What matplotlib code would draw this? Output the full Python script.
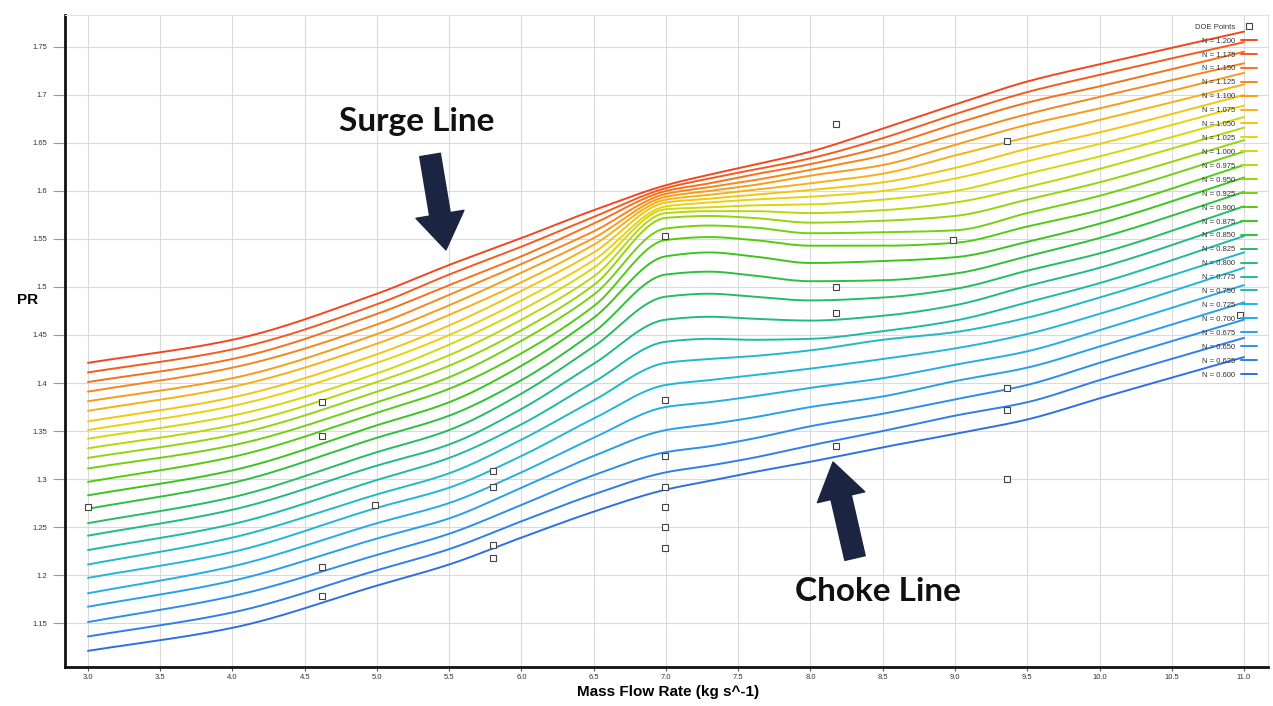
import numpy as np
import matplotlib
matplotlib.use("Agg")
import matplotlib.pyplot as plt

plt.rcParams['font.family'] = ['Liberation Sans', 'DejaVu Sans']

# ---------------- data ----------------
mass_flow = [3.0, 4.0, 5.0, 5.5, 6.0, 6.5, 7.0, 7.3, 7.6, 8.0, 8.5, 9.0, 9.5, 10.0, 11.0]

pr_lines = [
    [1.421, 1.445, 1.493, 1.523, 1.551, 1.580, 1.606, 1.617, 1.627, 1.641, 1.665, 1.690, 1.714, 1.732, 1.766],
    [1.411, 1.435, 1.482, 1.513, 1.542, 1.573, 1.603, 1.613, 1.622, 1.634, 1.655, 1.680, 1.703, 1.721, 1.755],
    [1.401, 1.425, 1.472, 1.502, 1.532, 1.566, 1.600, 1.608, 1.617, 1.628, 1.646, 1.670, 1.692, 1.709, 1.745],
    [1.391, 1.416, 1.461, 1.492, 1.524, 1.558, 1.597, 1.604, 1.611, 1.622, 1.637, 1.659, 1.680, 1.698, 1.733],
    [1.381, 1.405, 1.451, 1.481, 1.515, 1.551, 1.594, 1.600, 1.606, 1.616, 1.627, 1.648, 1.669, 1.686, 1.723],
    [1.371, 1.396, 1.441, 1.471, 1.505, 1.544, 1.591, 1.596, 1.601, 1.608, 1.618, 1.637, 1.656, 1.674, 1.711],
    [1.360, 1.385, 1.430, 1.460, 1.496, 1.536, 1.588, 1.592, 1.596, 1.601, 1.609, 1.624, 1.644, 1.661, 1.700],
    [1.351, 1.376, 1.421, 1.450, 1.486, 1.528, 1.584, 1.588, 1.591, 1.594, 1.600, 1.613, 1.631, 1.649, 1.689],
    [1.342, 1.366, 1.410, 1.440, 1.476, 1.520, 1.581, 1.583, 1.585, 1.586, 1.591, 1.600, 1.618, 1.636, 1.677],
    [1.332, 1.356, 1.401, 1.429, 1.466, 1.511, 1.577, 1.579, 1.579, 1.577, 1.580, 1.588, 1.604, 1.623, 1.666],
    [1.322, 1.346, 1.391, 1.418, 1.455, 1.502, 1.572, 1.574, 1.572, 1.567, 1.569, 1.574, 1.591, 1.609, 1.653],
    [1.311, 1.335, 1.380, 1.406, 1.444, 1.492, 1.561, 1.564, 1.562, 1.556, 1.557, 1.559, 1.577, 1.595, 1.641],
    [1.297, 1.323, 1.369, 1.394, 1.431, 1.480, 1.549, 1.552, 1.549, 1.543, 1.543, 1.546, 1.563, 1.580, 1.627],
    [1.283, 1.309, 1.356, 1.380, 1.418, 1.468, 1.532, 1.536, 1.532, 1.525, 1.527, 1.531, 1.547, 1.566, 1.614],
    [1.269, 1.296, 1.343, 1.366, 1.403, 1.453, 1.513, 1.516, 1.512, 1.506, 1.507, 1.514, 1.532, 1.551, 1.599],
    [1.254, 1.281, 1.328, 1.351, 1.389, 1.438, 1.490, 1.493, 1.490, 1.486, 1.489, 1.498, 1.517, 1.535, 1.584],
    [1.241, 1.268, 1.314, 1.336, 1.373, 1.420, 1.466, 1.469, 1.467, 1.465, 1.470, 1.481, 1.501, 1.520, 1.569],
    [1.226, 1.253, 1.299, 1.322, 1.357, 1.401, 1.443, 1.446, 1.445, 1.446, 1.454, 1.465, 1.484, 1.504, 1.553],
    [1.211, 1.239, 1.284, 1.306, 1.341, 1.382, 1.421, 1.425, 1.428, 1.434, 1.445, 1.453, 1.468, 1.489, 1.536],
    [1.197, 1.224, 1.270, 1.291, 1.324, 1.363, 1.398, 1.403, 1.408, 1.415, 1.425, 1.436, 1.451, 1.472, 1.520],
    [1.181, 1.209, 1.254, 1.275, 1.307, 1.343, 1.375, 1.380, 1.386, 1.395, 1.405, 1.419, 1.433, 1.455, 1.502],
    [1.167, 1.194, 1.238, 1.259, 1.291, 1.324, 1.351, 1.357, 1.364, 1.375, 1.386, 1.402, 1.416, 1.438, 1.484],
    [1.151, 1.178, 1.221, 1.243, 1.273, 1.304, 1.328, 1.334, 1.342, 1.355, 1.368, 1.383, 1.398, 1.421, 1.466],
    [1.136, 1.161, 1.205, 1.227, 1.256, 1.284, 1.307, 1.314, 1.322, 1.335, 1.350, 1.366, 1.380, 1.403, 1.447],
    [1.121, 1.145, 1.189, 1.211, 1.239, 1.266, 1.289, 1.298, 1.307, 1.318, 1.333, 1.347, 1.362, 1.384, 1.427],
]

speed_labels = [
    "N = 1.200", "N = 1.175", "N = 1.150", "N = 1.125", "N = 1.100",
    "N = 1.075", "N = 1.050", "N = 1.025", "N = 1.000", "N = 0.975",
    "N = 0.950", "N = 0.925", "N = 0.900", "N = 0.875", "N = 0.850",
    "N = 0.825", "N = 0.800", "N = 0.775", "N = 0.750", "N = 0.725",
    "N = 0.700", "N = 0.675", "N = 0.650", "N = 0.625", "N = 0.600",
]

line_colors = [
    '#f4461e', '#f55a1c', '#f6701a', '#f78619', '#f89b17',
    '#f8b014', '#f5c40f', '#e9d20a', '#d3d808', '#b4d90a',
    '#93d50c', '#72d10f', '#52cb12', '#3ac51e', '#2cc040',
    '#24bd64', '#1fbb86', '#1dbaa6', '#1fbac3', '#22b6d9',
    '#26ace6', '#2a9eec', '#2c8eec', '#2e7fe8', '#2f6fe2',
]

doe_x = [3.0, 4.619, 4.619, 4.986, 4.619, 4.619, 5.803, 5.803, 5.803, 5.803,
         6.993, 6.993, 6.993, 6.993, 6.993, 6.993, 6.993,
         8.176, 8.176, 8.176, 8.176, 8.986, 9.360, 9.360, 9.360, 9.360, 10.972]
doe_y = [1.271, 1.380, 1.345, 1.273, 1.208, 1.178, 1.308, 1.292, 1.231, 1.218,
         1.553, 1.382, 1.324, 1.292, 1.271, 1.250, 1.228,
         1.670, 1.500, 1.473, 1.334, 1.549, 1.652, 1.395, 1.372, 1.300, 1.471]

x_ticks = [3.0, 3.5, 4.0, 4.5, 5.0, 5.5, 6.0, 6.5, 7.0, 7.5, 8.0, 8.5, 9.0, 9.5, 10.0, 10.5, 11.0]
x_tick_labels = ["3.0", "3.5", "4.0", "4.5", "5.0", "5.5", "6.0", "6.5", "7.0", "7.5",
                 "8.0", "8.5", "9.0", "9.5", "10.0", "10.5", "11.0"]
y_ticks = [1.15, 1.2, 1.25, 1.3, 1.35, 1.4, 1.45, 1.5, 1.55, 1.6, 1.65, 1.7, 1.75]
y_tick_labels = ["1.15", "1.2", "1.25", "1.3", "1.35", "1.4", "1.45", "1.5", "1.55",
                 "1.6", "1.65", "1.7", "1.75"]


# ---------------- smooth (monotone cubic) curve through readings ----------------
def pchip(x, y, xs):
    x = np.asarray(x, float)
    y = np.asarray(y, float)
    h = np.diff(x)
    d = np.diff(y) / h
    m = np.zeros_like(y)
    m[0] = d[0]
    m[-1] = d[-1]
    for k in range(1, len(x) - 1):
        if d[k - 1] * d[k] <= 0:
            m[k] = 0.0
        else:
            w1 = 2 * h[k] + h[k - 1]
            w2 = h[k] + 2 * h[k - 1]
            m[k] = (w1 + w2) / (w1 / d[k - 1] + w2 / d[k])
    idx = np.clip(np.searchsorted(x, xs) - 1, 0, len(x) - 2)
    t = (xs - x[idx]) / h[idx]
    h00 = 2 * t**3 - 3 * t**2 + 1
    h10 = t**3 - 2 * t**2 + t
    h01 = -2 * t**3 + 3 * t**2
    h11 = t**3 - t**2
    return h00 * y[idx] + h10 * h[idx] * m[idx] + h01 * y[idx + 1] + h11 * h[idx] * m[idx + 1]


W, H = 1273, 706
fig = plt.figure(figsize=(W / 100, H / 100), dpi=100)
fig.patch.set_facecolor('white')
ax = fig.add_axes([65 / W, 39 / H, (1268 - 65) / W, (667 - 15) / H])

ax.set_xlim(2.841, 11.166)
ax.set_ylim(1.1042, 1.7833)

ax.set_xticks(x_ticks)
ax.set_xticklabels(x_tick_labels)
ax.set_yticks(y_ticks)
ax.set_yticklabels(y_tick_labels)

ax.grid(True, color='#dadada', linewidth=0.8)
ax.set_axisbelow(True)

for side in ('left', 'bottom'):
    ax.spines[side].set_color('#111111')
    ax.spines[side].set_linewidth(2.0)
for side in ('top', 'right'):
    ax.spines[side].set_color('#e2e2e2')
    ax.spines[side].set_linewidth(0.8)

ax.tick_params(axis='y', direction='out', length=9, width=0.8, color='#999999',
               labelsize=5.5, labelcolor='#333333', pad=4)
ax.tick_params(axis='x', direction='out', length=3, width=0.8, color='#555555',
               labelsize=5.5, labelcolor='#333333', pad=2)

xs = np.linspace(mass_flow[0], mass_flow[-1], 600)
handles = []
for row, col, lab in zip(pr_lines, line_colors, speed_labels):
    ys = pchip(mass_flow, row, xs)
    ln, = ax.plot(xs, ys, color=col, lw=1.4, label=lab, solid_capstyle='round')
    handles.append(ln)

doe, = ax.plot(doe_x, doe_y, ls='none', marker='s', ms=4.5, mfc='white',
               mec='#444444', mew=0.8, label='DOE Points', zorder=5)

leg = ax.legend(handles=[doe] + handles, loc='upper right',
                bbox_to_anchor=(1262 / W, 1 - 18 / H), bbox_transform=fig.transFigure,
                frameon=False, fontsize=5.5, markerfirst=False, labelspacing=0.86,
                handlelength=2.0, handletextpad=0.8, borderpad=0.2)
for t in leg.get_texts():
    t.set_color('#333333')

fig.text(668 / W, 1 - 692 / H, "Mass Flow Rate (kg s^-1)", fontsize=11, fontweight='bold',
         ha='center', va='center')
ax.set_ylabel("PR", fontsize=11, fontweight='bold', rotation=0)
ax.yaxis.set_label_coords(-0.031, 0.552)

# annotations
ax.text(5.277, 1.672, "Surge Line", fontsize=24, fontweight='bold', family=['Lato', 'DejaVu Sans'],
        ha='center', va='center', color='#111111')
ax.text(8.467, 1.183, "Choke Line", fontsize=24, fontweight='bold', family=['Lato', 'DejaVu Sans'],
        ha='center', va='center', color='#111111')

arrow_style = 'simple,head_length=1.3,head_width=1.75,tail_width=0.75'
ax.annotate('', xy=(5.477, 1.5386), xytext=(5.367, 1.6375),
            arrowprops=dict(arrowstyle=arrow_style, mutation_scale=20, color='#1b2440',
                            shrinkA=0, shrinkB=0), zorder=6)
ax.annotate('', xy=(8.156, 1.3177), xytext=(8.308, 1.2177),
            arrowprops=dict(arrowstyle=arrow_style, mutation_scale=20, color='#1b2440',
                            shrinkA=0, shrinkB=0), zorder=6)

fig.savefig("out.png", dpi=100, facecolor='white')
